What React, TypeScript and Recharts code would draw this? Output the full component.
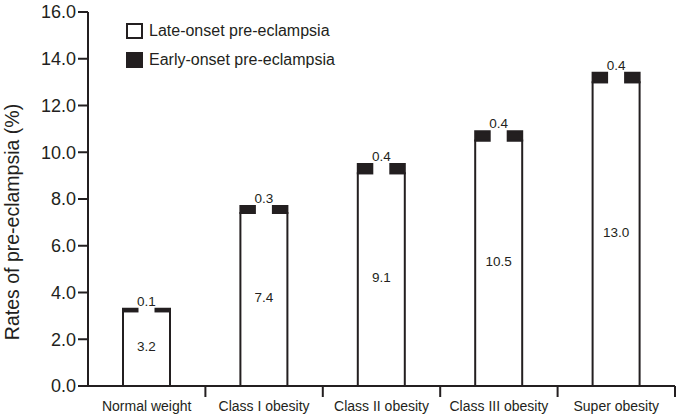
import React from 'react';
import { BarChart, Bar, XAxis, YAxis, Legend, LabelList } from 'recharts';

const categories = ['Normal weight', 'Class I obesity', 'Class II obesity', 'Class III obesity', 'Super obesity'];
const lateOnset = [3.2, 7.4, 9.1, 10.5, 13.0];
const earlyOnset = [0.1, 0.3, 0.4, 0.4, 0.4];
const seriesNames = ['Late-onset pre-eclampsia', 'Early-onset pre-eclampsia'];
const yTicks = [0, 2, 4, 6, 8, 10, 12, 14, 16];

const W = 676;
const H = 415;
const INK = '#231f20';
const FONT = '"Liberation Sans", Arial, Helvetica, sans-serif';
const Y_AXIS_W = 88;
const RIGHT = 1;
const bandW = (W - Y_AXIS_W - RIGHT) / categories.length;

const data = categories.map((name, i) => ({
  name,
  late: lateOnset[i],
  early: earlyOnset[i],
}));

const CatTick = (props: any) => {
  const { x, y, payload } = props;
  return (
    <g>
      <line x1={x + bandW / 2} x2={x + bandW / 2} y1={y} y2={y + 11} stroke={INK} strokeWidth={2} />
      <text x={x} y={y + 25} textAnchor="middle" fontSize={14} fill={INK} fontFamily={FONT}>
        {payload.value}
      </text>
    </g>
  );
};

const EarlyLabel = (props: any) => {
  const { x, y, width, height, value } = props;
  const cx = x + width / 2;
  return (
    <g>
      <rect x={cx - 8} y={y - 2} width={16} height={height + 4} fill="#fff" />
      <text x={cx} y={y - 3} textAnchor="middle" fontSize={13.5} fill={INK} fontFamily={FONT}>
        {Number(value).toFixed(1)}
      </text>
    </g>
  );
};

const LateLabel = (props: any) => {
  const { x, y, width, height, value } = props;
  return (
    <text
      x={x + width / 2}
      y={y + height / 2 - 2}
      textAnchor="middle"
      dominantBaseline="central"
      fontSize={13.5}
      fill={INK}
      fontFamily={FONT}
    >
      {Number(value).toFixed(1)}
    </text>
  );
};

const LegendBox = () => (
  <div style={{ fontFamily: FONT, fontSize: 16, color: INK }}>
    {seriesNames.map((n, i) => (
      <div key={n} style={{ display: 'flex', alignItems: 'center', height: 29 }}>
        <span
          style={{
            display: 'inline-block',
            width: 13,
            height: 12,
            border: `2px solid ${INK}`,
            background: i === 0 ? '#fff' : INK,
            marginRight: 6,
          }}
        />
        <span>{n}</span>
      </div>
    ))}
  </div>
);

const YLabel = (props: any) => {
  const { viewBox } = props;
  const cx = viewBox.x + 19;
  const cy = viewBox.y + viewBox.height / 2 + 23;
  return (
    <text
      x={cx}
      y={cy}
      transform={`rotate(-90, ${cx}, ${cy})`}
      textAnchor="middle"
      fontSize={19.5}
      fill={INK}
      fontFamily={FONT}
    >
      Rates of pre-eclampsia (%)
    </text>
  );
};

export default function App() {
  return (
    <div style={{ position: 'absolute', left: 0, top: 0, width: W, height: H, background: '#fff', fontFamily: FONT }}>
      <BarChart width={W} height={H} data={data} margin={{ top: 12, right: RIGHT, left: 0, bottom: 0 }} barSize={47}>
        <XAxis
          dataKey="name"
          height={29}
          axisLine={{ stroke: INK, strokeWidth: 2 }}
          tickLine={false}
          tickSize={0}
          tickMargin={0}
          tick={<CatTick />}
          interval={0}
        />
        <YAxis
          width={Y_AXIS_W}
          domain={[0, 16]}
          ticks={yTicks}
          interval={0}
          tickFormatter={(v: number) => v.toFixed(1)}
          axisLine={{ stroke: INK, strokeWidth: 2 }}
          tickLine={{ stroke: INK, strokeWidth: 2 }}
          tickSize={10}
          tick={{ fontSize: 18, fill: INK, fontFamily: FONT }}
          label={{ content: <YLabel /> }}
        />
        <Legend
          layout="vertical"
          align="center"
          verticalAlign="middle"
          content={<LegendBox />}
          wrapperStyle={{ left: 126, top: 16, width: 260 }}
        />
        <Bar dataKey="late" name={seriesNames[0]} stackId="a" fill="#fff" stroke={INK} strokeWidth={2} isAnimationActive={false}>
          <LabelList dataKey="late" content={<LateLabel />} />
        </Bar>
        <Bar dataKey="early" name={seriesNames[1]} stackId="a" fill={INK} stroke={INK} strokeWidth={2} isAnimationActive={false}>
          <LabelList dataKey="early" content={<EarlyLabel />} />
        </Bar>
      </BarChart>
    </div>
  );
}
